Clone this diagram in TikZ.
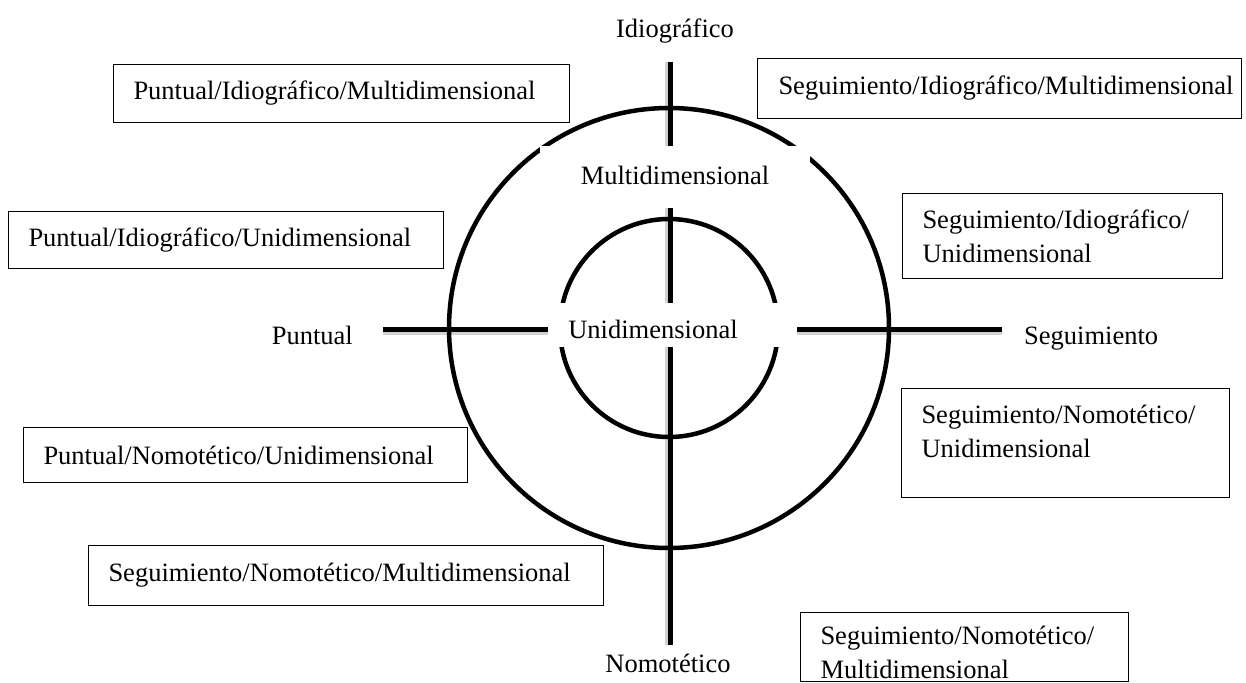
\documentclass[tikz,border=0pt]{standalone}
\usepackage{fontspec}
\setmainfont{Liberation Serif}
\begin{document}
\begin{tikzpicture}[x=1pt,y=-1pt,
  axis/.style={line width=5pt,black},
  axshadow/.style={line width=5pt,black!18},
  ring/.style={line width=4.5pt,black},
  lbl/.style={font=\fontsize{26.5}{34}\selectfont,inner sep=0pt},
  box/.style={draw,line width=1pt,font=\fontsize{26.5}{34}\selectfont,align=left,
    inner xsep=20pt,inner ysep=0pt,anchor=north west}]
\useasboundingbox (0,0) rectangle (1246,682);
% axis ends
\coordinate (vt) at (670,62);
\coordinate (vb) at (670,645);
\coordinate (hl) at (383,329);
\coordinate (hr) at (1002,329);
\coordinate (c) at (669,328);
% shadows
\draw[axshadow] ([xshift=-3pt]vt) -- ([xshift=-3pt]vb);
\draw[axshadow] ([yshift=-3pt]hl) -- ([yshift=-3pt]hr);
% axes
\draw[axis] (vt) -- (vb);
\draw[axis] (hl) -- (hr);
% circles
\draw[ring] (c) circle[radius=220];
\draw[ring] (c) circle[radius=109];
% white covers
\fill[white] (540,146) rectangle (810,208);
\fill[white] (548,303) rectangle (797,347);
% labels
\node[lbl,anchor=base] (multi) at (675,184) {Multidimensional};
\node[lbl,anchor=base] (uni) at (653,338) {Unidimensional};
\node[lbl,anchor=base] (idio) at (675,38) {Idiográfico};
\node[lbl,anchor=base] (nomo) at (668,672) {Nomotético};
\node[lbl,anchor=base east] (punt) at (353,344) {Puntual};
\node[lbl,anchor=base west] (segu) at (1024,344) {Seguimiento};
% boxes
\node[box,text width=416pt,minimum height=58pt] (b1) at (113,64) {Puntual/Idiográfico/Multidimensional};
\node[box,inner xsep=5.5pt,text width=473pt,minimum height=60pt] (b8) at (757,58) {\hspace*{15.5pt}Seguimiento/Idiográfico/Multidimensional};
\node[box,text width=395pt,minimum height=57pt] (b2) at (8,211) {Puntual/Idiográfico/Unidimensional};
\node[box,text width=280pt,minimum height=85pt] (b3) at (902,193) {Seguimiento/Idiográfico/\\Unidimensional};
\node[box,text width=404pt,minimum height=55pt] (b4) at (23,427) {Puntual/Nomotético/Unidimensional};
\node[box,text width=288pt,minimum height=109pt] (b5) at (901,388) {Seguimiento/Nomotético/\\Unidimensional\rule[-24pt]{0pt}{0pt}};
\node[box,text width=475pt,minimum height=60pt] (b6) at (88,545) {Seguimiento/Nomotético/Multidimensional};
\node[box,text width=288pt,minimum height=69pt] (b7) at (800,612) {\rule{0pt}{29pt}Seguimiento/Nomotético/\\Multidimensional};
\end{tikzpicture}
\end{document}
